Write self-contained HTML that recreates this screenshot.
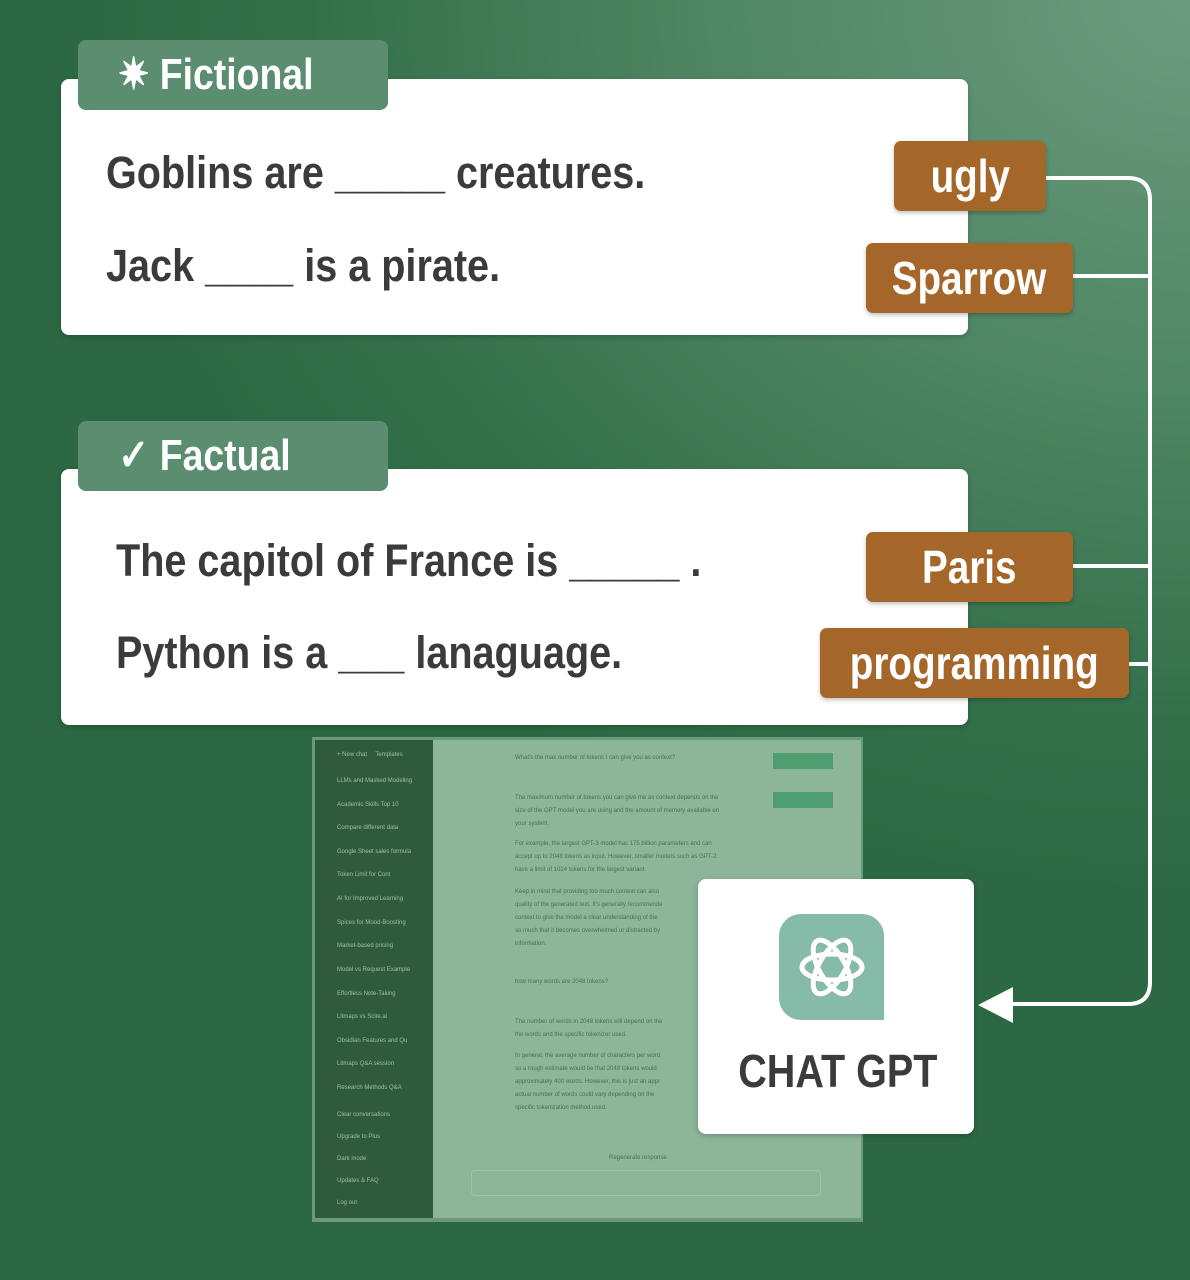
<!DOCTYPE html>
<html><head><meta charset="utf-8"><style>
*{margin:0;padding:0;box-sizing:border-box}
body{width:1190px;height:1280px;overflow:hidden;position:relative;font-family:"Liberation Sans",sans-serif;
background:radial-gradient(ellipse 1100px 900px at 1190px 0px,#6b9c80 0%,#4e8562 45%,#33704a 80%,#2c6843 100%);}
.abs{position:absolute}
.card{position:absolute;left:61px;width:907px;height:256px;background:#fff;border-radius:8px;box-shadow:0 2px 6px rgba(0,0,0,.2)}
.tab{position:absolute;left:78px;width:310px;height:70px;background:#5b8d70;border-radius:8px;color:#fff;font-weight:bold;font-size:44px;line-height:70px;padding-left:40px;white-space:nowrap}
.tab span{display:inline-block;transform:scaleX(.85);transform-origin:left center}
.t{position:absolute;color:#3b3b3b;font-weight:bold;font-size:45px;white-space:nowrap;transform:scaleX(.88);transform-origin:left top}
.lab{position:absolute;background:#a5662a;color:#fff;font-weight:bold;font-size:46px;text-align:center;border-radius:7px;height:70px;line-height:70px;box-shadow:0 2px 4px rgba(0,0,0,.25);white-space:nowrap}
.lab span{display:inline-block;transform:scaleX(.84)}
.sb{position:absolute;left:315px;top:740px;width:118px;height:478px;background:#2f5a3d}
.sb div{position:absolute;left:22px;font-size:6px;color:#9fbfa8;white-space:nowrap}
.main{position:absolute;left:433px;top:740px;width:428px;height:478px;background:#8db59a}
.main p{position:absolute;font-size:6px;color:#4d6e57;line-height:13px;white-space:nowrap}
</style></head><body>
<div class="abs" style="left:312px;top:737px;width:551px;height:485px;background:#6a9a7b"></div>
<div class="sb">
<div style="top:12px">+ New chat &nbsp;&nbsp;&nbsp; Templates</div>
<div style="top:38px">LLMs and Masked Modeling</div>
<div style="top:62px">Academic Skills Top 10</div>
<div style="top:85px">Compare different data</div>
<div style="top:109px">Google Sheet sales formula</div>
<div style="top:132px">Token Limit for Cont</div>
<div style="top:156px">AI for Improved Learning</div>
<div style="top:180px">Spices for Mood-Boosting</div>
<div style="top:203px">Market-based pricing</div>
<div style="top:227px">Model vs Request Example</div>
<div style="top:251px">Effortless Note-Taking</div>
<div style="top:274px">Litmaps vs Scite.ai</div>
<div style="top:298px">Obsidian Features and Qu</div>
<div style="top:321px">Litmaps Q&amp;A session</div>
<div style="top:345px">Research Methods Q&amp;A</div>
<div style="top:372px">Clear conversations</div>
<div style="top:394px">Upgrade to Plus</div>
<div style="top:416px">Dark mode</div>
<div style="top:438px">Updates &amp; FAQ</div>
<div style="top:460px">Log out</div>
</div>
<div class="main">
<p style="left:82px;top:12px">What's the max number of tokens I can give you as context?</p>
<div class="abs" style="left:340px;top:13px;width:60px;height:16px;background:#4f9e72"></div>
<div class="abs" style="left:340px;top:52px;width:60px;height:16px;background:#4f9e72"></div>
<p style="left:82px;top:52px">The maximum number of tokens you can give me as context depends on the<br>size of the GPT model you are using and the amount of memory available on<br>your system.</p>
<p style="left:82px;top:98px">For example, the largest GPT-3 model has 175 billion parameters and can<br>accept up to 2048 tokens as input. However, smaller models such as GPT-2<br>have a limit of 1024 tokens for the largest variant.</p>
<p style="left:82px;top:146px">Keep in mind that providing too much context can also<br>quality of the generated text. It's generally recommende<br>context to give the model a clear understanding of the<br>so much that it becomes overwhelmed or distracted by<br>information.</p>
<p style="left:82px;top:236px">how many words are 2048 tokens?</p>
<p style="left:82px;top:276px">The number of words in 2048 tokens will depend on the<br>the words and the specific tokenizer used.</p>
<p style="left:82px;top:310px">In general, the average number of characters per word<br>so a rough estimate would be that 2048 tokens would<br>approximately 400 words. However, this is just an appr<br>actual number of words could vary depending on the<br>specific tokenization method used.</p>
<p style="left:176px;top:412px">Regenerate response</p>
<div class="abs" style="left:38px;top:430px;width:350px;height:26px;border:1px solid #9fc3a9;border-radius:4px"></div>
</div>

<div class="card" style="top:79px"></div>
<div class="tab" style="top:40px"><span>✷ Fictional</span></div>
<div class="t" style="left:106px;top:147px">Goblins are _____ creatures.</div>
<div class="t" style="left:106px;top:240px">Jack ____ is a pirate.</div>

<div class="card" style="top:469px"></div>
<div class="tab" style="top:421px"><span>✓ Factual</span></div>
<div class="t" style="left:116px;top:535px">The capitol of France is _____ .</div>
<div class="t" style="left:116px;top:627px">Python is a ___ lanaguage.</div>

<svg class="abs" style="left:0;top:0" width="1190" height="1280">
<g fill="none" stroke="#fff" stroke-width="4">
<path d="M1046 178 H1128 Q1150 178 1150 200 V982 Q1150 1004 1128 1004 H1010"/>
<path d="M1073 276 H1150 M1073 566 H1150 M1129 664 H1150"/>
</g>
<polygon points="978,1005 1013,987 1013,1023" fill="#fff"/>
</svg>

<div class="lab" style="left:894px;top:141px;width:152px"><span>ugly</span></div>
<div class="lab" style="left:866px;top:243px;width:207px"><span>Sparrow</span></div>
<div class="lab" style="left:866px;top:532px;width:207px"><span>Paris</span></div>
<div class="lab" style="left:820px;top:628px;width:309px"><span>programming</span></div>

<div class="abs" style="left:698px;top:879px;width:276px;height:255px;background:#fff;border-radius:8px;box-shadow:0 2px 6px rgba(0,0,0,.2)"></div>
<div class="abs" style="left:779px;top:914px;width:105px;height:106px;background:#87bba9;border-radius:22px 22px 0 22px"></div>
<svg class="abs" style="left:790px;top:925px" width="84" height="84" viewBox="-42 -42 84 84">
<g fill="none" stroke="#fff" stroke-width="5">
<ellipse rx="30" ry="13" transform="rotate(0)"/>
<ellipse rx="30" ry="13" transform="rotate(60)"/>
<ellipse rx="30" ry="13" transform="rotate(120)"/>
</g></svg>
<div class="abs" style="left:698px;top:1044px;width:280px;text-align:center;color:#3b3b3b;font-weight:bold;font-size:46px"><span style="display:inline-block;transform:scaleX(.86)">CHAT GPT</span></div>
</body></html>
